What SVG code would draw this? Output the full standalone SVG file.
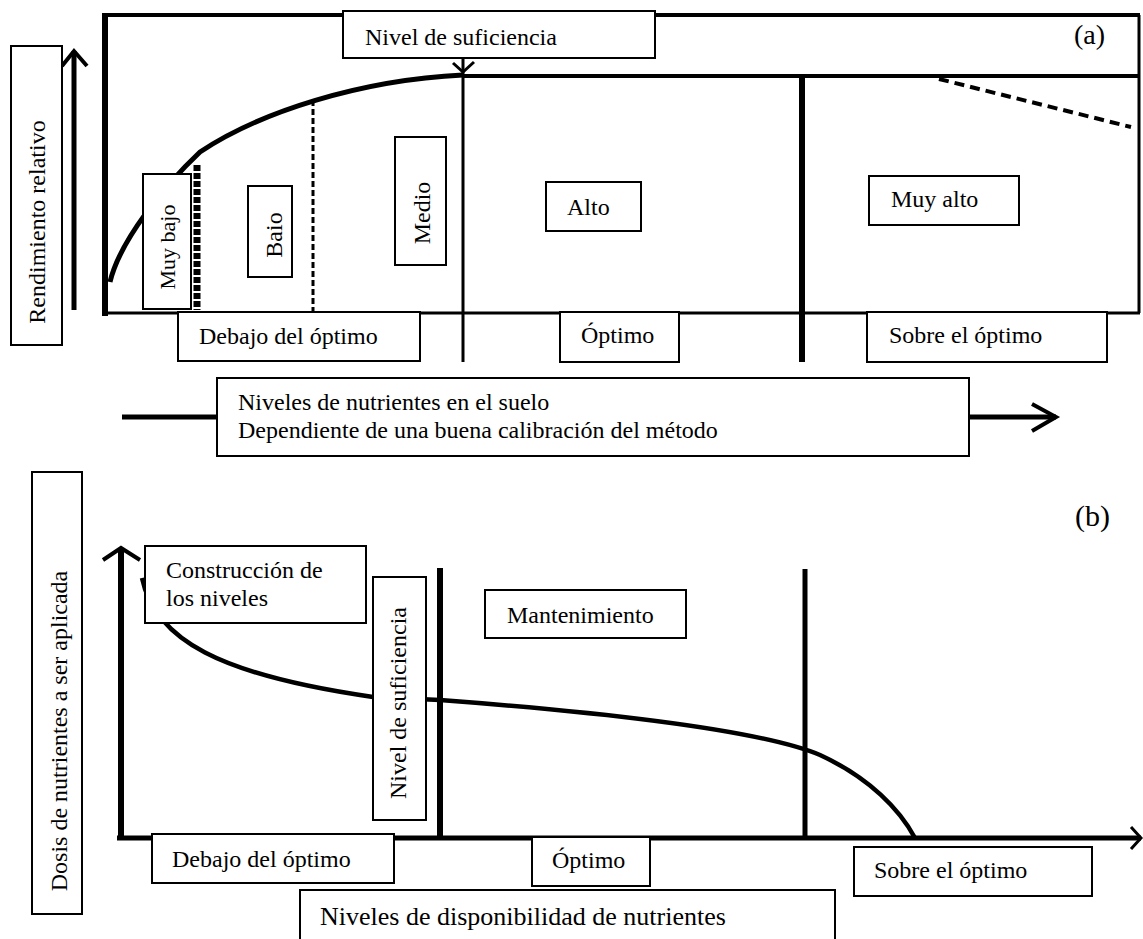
<svg xmlns="http://www.w3.org/2000/svg" width="1143" height="939" viewBox="0 0 1143 939">
<style>
.box{fill:#fff;stroke:#000;stroke-width:2}
.t{font-family:"Liberation Serif","Times New Roman",serif;font-size:24px;fill:#000}
.ln{stroke:#000;fill:none;stroke-linecap:butt}
</style>
<rect x="0" y="0" width="1143" height="939" fill="#fff"/>
<g id="connectors">
  <!-- panel a frame -->
  <line class="ln" x1="102" y1="15" x2="1140" y2="15" stroke-width="4"/>
  <line class="ln" x1="105" y1="13" x2="105" y2="316" stroke-width="6"/>
  <line class="ln" x1="105" y1="313" x2="1140" y2="313" stroke-width="3"/>
  <line class="ln" x1="1139" y1="15" x2="1139" y2="313" stroke-width="3"/>
  <line class="ln" x1="463" y1="76" x2="1140" y2="76" stroke-width="4"/>
  <!-- verticals a -->
  <line class="ln" x1="463" y1="58" x2="463" y2="362" stroke-width="3"/>
  <polyline class="ln" points="453,63 463,72 474,62" stroke-width="3"/>
  <line class="ln" x1="802" y1="76" x2="802" y2="362" stroke-width="6"/>
  <line class="ln" x1="197" y1="165" x2="197" y2="310" stroke-width="7" stroke-dasharray="6 2"/>
  <line class="ln" x1="313" y1="100" x2="313" y2="313" stroke-width="3" stroke-dasharray="6 3"/>
  <!-- curve a -->
  <path class="ln" d="M110 282 C120 240,165 185,200 152 C260 112,360 80,463 75" stroke-width="5"/>
  <line class="ln" x1="939" y1="79" x2="1131" y2="127" stroke-width="4" stroke-dasharray="10 6"/>
  <!-- y axis a -->
  <line class="ln" x1="74" y1="51" x2="74" y2="310" stroke-width="5"/>
  <polyline class="ln" points="62,66 74,51 87,66" stroke-width="4"/>
  <!-- x axis a -->
  <line class="ln" x1="122" y1="417" x2="1056" y2="417" stroke-width="5"/>
  <polyline class="ln" points="1032,404 1056,417 1032,431" stroke-width="4"/>
  <!-- panel b -->
  <line class="ln" x1="121" y1="548" x2="121" y2="840" stroke-width="6"/>
  <polyline class="ln" points="103,560 121,548 140,560" stroke-width="4"/>
  <line class="ln" x1="117" y1="838" x2="1141" y2="838" stroke-width="5"/>
  <polyline class="ln" points="1131,827 1141,838 1131,849" stroke-width="3"/>
  <line class="ln" x1="440" y1="568" x2="440" y2="838" stroke-width="6"/>
  <line class="ln" x1="805" y1="569" x2="805" y2="838" stroke-width="5"/>
  <path class="ln" d="M142 578 C155 640,220 675,373 697 L440 700 C600 712,760 730,820 755 C870 778,900 810,915 838" stroke-width="4.5"/>
</g>
<g id="label-a"><text class="t" x="1074" y="44" style="font-size:28px">(a)</text></g>
<g id="label-b"><text class="t" x="1075" y="526" style="font-size:30px">(b)</text></g>
<g id="nivel-suficiencia-a">
  <rect class="box" x="343" y="11" width="312" height="47"/>
  <text class="t" x="365" y="45">Nivel de suficiencia</text>
</g>
<g id="rendimiento">
  <rect class="box" x="11" y="46" width="51" height="299"/>
  <text class="t" x="45" y="222" text-anchor="middle" transform="rotate(-90 45 222)">Rendimiento relativo</text>
</g>
<g id="muy-bajo">
  <rect class="box" x="143" y="174" width="48" height="135"/>
  <text class="t" x="175" y="247" text-anchor="middle" transform="rotate(-90 175 247)" style="font-size:22px">Muy bajo</text>
</g>
<g id="baio">
  <rect class="box" x="248" y="186" width="44" height="91"/>
  <text class="t" x="282" y="235" text-anchor="middle" transform="rotate(-90 282 235)">Baio</text>
</g>
<g id="medio">
  <rect class="box" x="395" y="137" width="51" height="128"/>
  <text class="t" x="430" y="213" text-anchor="middle" transform="rotate(-90 430 213)">Medio</text>
</g>
<g id="alto">
  <rect class="box" x="546" y="182" width="95" height="49"/>
  <text class="t" x="567" y="215">Alto</text>
</g>
<g id="muy-alto">
  <rect class="box" x="869" y="176" width="150" height="49"/>
  <text class="t" x="891" y="207">Muy alto</text>
</g>
<g id="debajo-a">
  <rect class="box" x="178" y="312" width="242" height="49"/>
  <text class="t" x="199" y="344">Debajo del óptimo</text>
</g>
<g id="optimo-a">
  <rect class="box" x="560" y="312" width="119" height="50"/>
  <text class="t" x="581" y="343">Óptimo</text>
</g>
<g id="sobre-a">
  <rect class="box" x="867" y="312" width="240" height="50"/>
  <text class="t" x="889" y="343">Sobre el óptimo</text>
</g>
<g id="niveles-suelo">
  <rect class="box" x="217" y="378" width="752" height="78"/>
  <text class="t" x="238" y="410">Niveles de nutrientes en el suelo</text>
  <text class="t" x="238" y="438">Dependiente de una buena calibración del método</text>
</g>
<g id="dosis">
  <rect class="box" x="32" y="472" width="50" height="442"/>
  <text class="t" x="67" y="731" text-anchor="middle" transform="rotate(-90 67 731)">Dosis de nutrientes a ser aplicada</text>
</g>
<g id="construccion">
  <rect class="box" x="145" y="546" width="221" height="77"/>
  <text class="t" x="166" y="578">Construcción de</text>
  <text class="t" x="166" y="606">los niveles</text>
</g>
<g id="nivel-suficiencia-b">
  <rect class="box" x="373" y="577" width="53" height="243"/>
  <text class="t" x="406" y="703" text-anchor="middle" transform="rotate(-90 406 703)">Nivel de suficiencia</text>
</g>
<g id="mantenimiento">
  <rect class="box" x="485" y="590" width="201" height="48"/>
  <text class="t" x="507" y="623">Mantenimiento</text>
</g>
<g id="debajo-b">
  <rect class="box" x="152" y="834" width="242" height="49"/>
  <text class="t" x="172" y="867">Debajo del óptimo</text>
</g>
<g id="optimo-b">
  <rect class="box" x="532" y="837" width="118" height="49"/>
  <text class="t" x="552" y="868">Óptimo</text>
</g>
<g id="sobre-b">
  <rect class="box" x="854" y="847" width="238" height="49"/>
  <text class="t" x="874" y="878">Sobre el óptimo</text>
</g>
<g id="niveles-disponibilidad">
  <rect class="box" x="300" y="890" width="535" height="60"/>
  <text class="t" x="320" y="925" style="font-size:26px">Niveles de disponibilidad de nutrientes</text>
</g>
</svg>
